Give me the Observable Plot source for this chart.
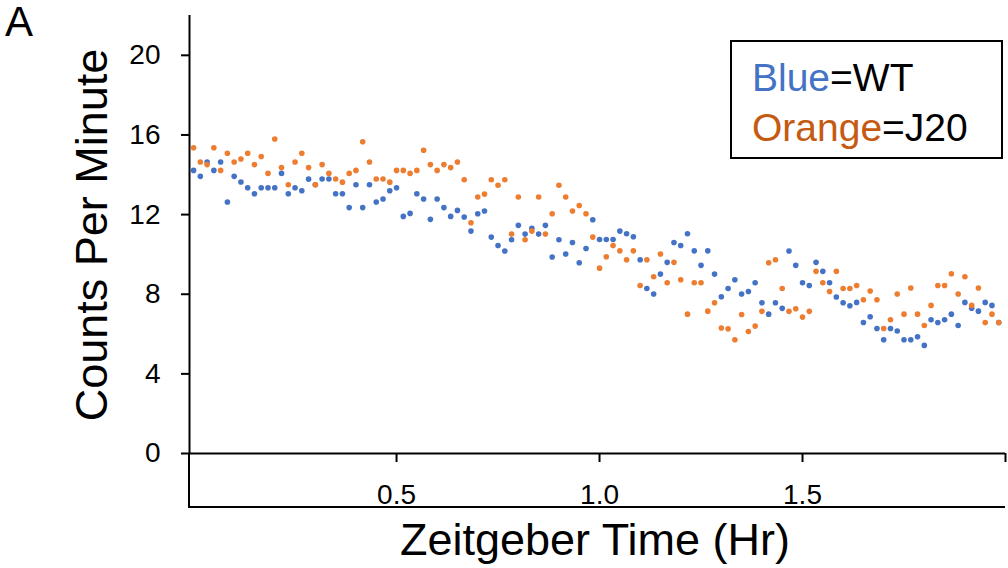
<!DOCTYPE html>
<html>
<head>
<meta charset="utf-8">
<script src="https://cdn.jsdelivr.net/npm/d3@7"></script>
<script src="https://cdn.jsdelivr.net/npm/@observablehq/plot@0.6"></script>
<style>
  body { margin: 0; background: #fff; }
  #chart { width: 1008px; height: 568px; }
  #chart g[aria-label="y-axis tick label"],
  #chart g[aria-label="x-axis tick label"] { font-size: 28px; }
</style>
</head>
<body>
<div id="chart"></div>
<script>
// Activity counts sampled once per minute over two hours of Zeitgeber time
const wtCounts = [
  14.22, 13.92, 14.64, 14.22, 14.64, 12.63, 13.92, 13.64, 13.35, 13.05,
  13.35, 13.35, 13.35, 14.07, 13.05, 13.35, 13.20, 13.78, 13.50, 13.79,
  13.79, 13.05, 13.05, 12.35, 13.50, 12.35, 13.50, 12.63, 12.78, 13.20,
  13.35, 11.91, 12.06, 13.05, 12.78, 11.76, 12.78, 12.35, 11.91, 12.21,
  11.88, 11.17, 12.04, 12.18, 10.87, 10.45, 10.17, 10.74, 11.46, 11.02,
  11.31, 11.02, 11.46, 9.87, 10.74, 10.02, 10.60, 9.58, 10.30, 11.74,
  10.75, 10.75, 10.75, 11.17, 11.04, 10.89, 9.73, 8.29, 8.01, 9.01,
  9.60, 10.60, 10.45, 11.04, 10.18, 9.45, 10.18, 9.01, 7.87, 8.29,
  8.73, 8.01, 8.14, 8.58, 7.57, 7.00, 7.57, 7.29, 10.17, 9.45,
  8.58, 8.44, 9.60, 9.15, 8.58, 7.86, 7.57, 7.42, 7.59, 6.58,
  6.87, 6.28, 5.71, 6.28, 6.15, 5.71, 5.71, 5.86, 5.43, 6.72,
  6.58, 6.72, 7.00, 6.43, 7.59, 7.30, 7.15, 7.59, 7.44, 6.58
];
const j20Counts = [
  15.36, 14.64, 14.51, 15.36, 14.22, 15.08, 14.64, 14.79, 15.08, 14.51,
  14.92, 14.07, 15.80, 14.36, 13.50, 14.64, 15.08, 14.36, 13.50, 14.51,
  14.07, 13.79, 13.63, 14.07, 14.22, 15.66, 14.64, 13.79, 13.79, 13.63,
  14.22, 14.22, 14.07, 14.22, 15.23, 14.51, 14.22, 14.51, 14.36, 14.64,
  13.75, 11.59, 12.88, 13.03, 13.75, 13.47, 13.75, 11.02, 12.88, 10.74,
  11.17, 12.88, 11.02, 12.04, 13.47, 12.88, 12.18, 12.46, 12.04, 10.87,
  9.31, 9.88, 10.45, 10.18, 9.73, 10.18, 8.44, 9.73, 8.88, 10.02,
  8.58, 9.60, 8.73, 7.00, 8.58, 8.58, 7.15, 7.57, 6.30, 6.26,
  5.71, 6.98, 6.13, 6.40, 7.14, 9.58, 9.73, 8.29, 7.14, 7.27,
  6.85, 7.14, 9.15, 8.58, 8.14, 9.15, 8.29, 8.29, 8.44, 7.72,
  8.16, 7.72, 6.28, 6.72, 8.01, 7.00, 8.31, 7.00, 6.43, 7.44,
  8.44, 8.44, 9.03, 8.01, 8.88, 7.44, 8.31, 6.58, 7.00, 6.58
];
const minutesPerHour = 60;

const yTicks = [0, 4, 8, 12, 16, 20];
const xTicks = [0.5, 1.0, 1.5, 2.0];
const xTickLabels = ["0.5", "1.0", "1.5", ""];

const xDomain = [-0.01, 2.0];
const yDomain = [0, 22];

const seriesNames = ["WT", "J20"];
const dotColors = { WT: "#4472C4", J20: "#ED7D31" };
const legendColors = { WT: "#4472C4", J20: "#C55A11" };
const legendWords = { WT: "Blue", J20: "Orange" };

const FONT = "'Liberation Sans', Arial, Helvetica, sans-serif";

const toRows = (values, group) =>
  values.map((v, i) => ({ t: i / minutesPerHour, v, group }));
const wtRows = toRows(wtCounts, "WT");
const j20Rows = toRows(j20Counts, "J20");

const chart = Plot.plot({
  width: 1008,
  height: 568,
  marginLeft: 189,
  marginRight: 3,
  marginTop: 15,
  marginBottom: 115,
  style: { fontFamily: FONT, background: "white", color: "black", overflow: "visible" },
  x: { domain: xDomain },
  y: { domain: yDomain },
  marks: [
    Plot.axisY(yTicks, {
      tickSize: 8, tickPadding: 21, strokeWidth: 2, label: null
    }),
    Plot.axisX(xTicks, {
      tickSize: 9, tickPadding: 22, strokeWidth: 2, label: null,
      tickFormat: d => xTickLabels[xTicks.indexOf(d)]
    }),
    Plot.ruleY([yDomain[0]], { strokeWidth: 2 }),
    Plot.ruleX([xDomain[0]], { strokeWidth: 2 }),
    Plot.dot(wtRows, { x: "t", y: "v", r: 2.8, fill: dotColors.WT }),
    Plot.dot(j20Rows, { x: "t", y: "v", r: 2.8, fill: dotColors.J20 })
  ]
});

document.getElementById("chart").appendChild(chart);

const svg = d3.select(chart);
const [x0, x1] = chart.scale("x").range;
const [yBottom] = chart.scale("y").range;

// Label strip underneath the category axis
svg.append("path")
  .attr("d", `M${x0},${yBottom} V${yBottom + 54} H${x1}`)
  .attr("fill", "none")
  .attr("stroke", "black")
  .attr("stroke-width", 2);

// Panel letter
svg.append("text")
  .attr("x", 5).attr("y", 36)
  .attr("text-anchor", "start")
  .attr("font-family", FONT).attr("font-size", 42)
  .text("A");

// Axis titles
svg.append("text")
  .attr("transform", "translate(107,235) rotate(-90)")
  .attr("text-anchor", "middle")
  .attr("font-family", FONT).attr("font-size", 45)
  .text("Counts Per Minute");

svg.append("text")
  .attr("x", (x0 + x1) / 2 - 2).attr("y", 555)
  .attr("text-anchor", "middle")
  .attr("font-family", FONT).attr("font-size", 45)
  .text("Zeitgeber Time (Hr)");

// Legend box
const legend = svg.append("g");
legend.append("rect")
  .attr("x", 731).attr("y", 41)
  .attr("width", 271).attr("height", 117)
  .attr("fill", "white").attr("stroke", "black").attr("stroke-width", 2);

seriesNames.forEach((name, i) => {
  const line = legend.append("text")
    .attr("x", 752).attr("y", 91 + i * 50)
    .attr("text-anchor", "start")
    .attr("font-family", FONT).attr("font-size", 39);
  line.append("tspan").attr("fill", legendColors[name]).text(legendWords[name]);
  line.append("tspan").attr("fill", "black").text("=" + name);
});
</script>
</body>
</html>
